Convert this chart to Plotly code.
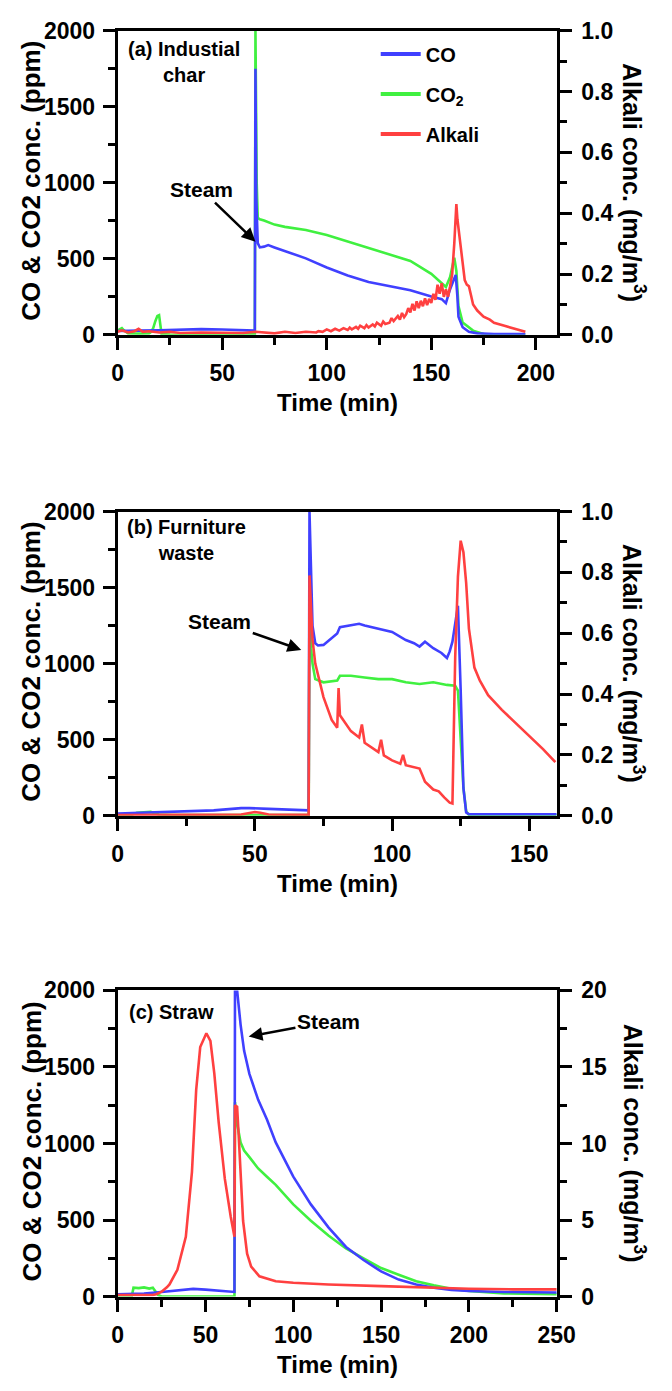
import plotly.graph_objects as go

# ---------------- data ----------------
# Panel (a) Industrial char
a_co_t = [0, 5, 10, 20, 30, 40, 50, 60, 65.6, 65.9, 66.3, 67, 68, 70, 72, 75, 80, 90, 100, 110, 120, 130, 140, 150, 155, 157, 159, 161, 161.7, 162.5, 163, 165, 168, 172, 180, 195]
a_co = [25, 25, 28, 30, 35, 38, 35, 30, 28, 1750, 900, 603, 575, 580, 590, 575, 550, 503, 443, 390, 347, 320, 294, 252, 235, 209, 300, 370, 394, 250, 120, 50, 20, 10, 6, 5]

a_co2_t = [0, 1, 2, 3, 5, 10, 15, 16, 17, 18, 19, 19.8, 20.5, 21, 25, 36, 50, 65.6, 65.9, 66.5, 67, 68, 70, 75, 80, 90, 100, 110, 120, 130, 140, 150, 155, 157, 159, 161, 162, 163, 165, 170, 175, 185, 195]
a_co2 = [30, 40, 45, 30, 10, 8, 10, 20, 45, 90, 125, 130, 60, 5, 2, 0, 3, 5, 2000, 1000, 770, 760, 752, 725, 710, 689, 657, 614, 571, 533, 486, 401, 337, 315, 380, 507, 420, 190, 81, 28, 6, 2, 0]

a_alk_t = [0, 2, 5, 8, 10, 12, 15, 20, 25, 30, 40, 50, 60, 66, 70, 75, 80, 85, 90, 95,
           96, 98, 100, 102, 104, 106, 108, 110, 111, 112, 114, 115, 116, 118, 119, 120, 122, 123, 124, 126, 127, 128, 130,
           131, 132, 134, 135, 136, 137, 138, 139, 140, 141, 142, 143, 144, 145, 146, 147, 148, 149, 150,
           151, 152, 153, 154, 155, 156, 157, 158, 159, 160, 161, 162, 162.5, 163, 164, 165, 166,
           167, 168, 169, 170, 172, 175, 178, 180, 185, 190, 195]
a_alk = [0.010, 0.015, 0.008, 0.012, 0.020, 0.010, 0.012, 0.008, 0.010, 0.006, 0.008, 0.007, 0.006, 0.010, 0.008, 0.005, 0.010, 0.006, 0.010, 0.008,
         0.012, 0.010, 0.018, 0.012, 0.020, 0.014, 0.022, 0.016, 0.024, 0.018, 0.026, 0.020, 0.030, 0.022, 0.032, 0.024, 0.034, 0.028, 0.040, 0.030, 0.044, 0.036, 0.040,
         0.055, 0.045, 0.062, 0.050, 0.072, 0.058, 0.068, 0.088, 0.074, 0.102, 0.080, 0.110, 0.088, 0.112, 0.094, 0.120, 0.098, 0.118, 0.105,
         0.135, 0.115, 0.165, 0.135, 0.170, 0.125, 0.150, 0.125, 0.160, 0.200, 0.300, 0.430, 0.380, 0.350, 0.300, 0.240, 0.180,
         0.165, 0.160, 0.130, 0.100, 0.080, 0.060, 0.050, 0.040, 0.030, 0.020, 0.010]

# Panel (b) Furniture waste
b_co_t = [0, 10, 20, 35, 45, 48, 55, 60, 69.6, 69.9, 70.5, 71, 72, 73, 75, 78, 80, 81, 85, 88, 90, 95, 100, 105, 108, 110, 112, 115, 118, 120, 121, 122, 123, 124, 125, 126, 127, 128, 140, 160]
b_co = [15, 20, 25, 35, 50, 50, 45, 40, 35, 2000, 1500, 1250, 1134, 1119, 1123, 1166, 1198, 1240, 1251, 1262, 1251, 1230, 1208, 1155, 1134, 1112, 1144, 1101, 1070, 1037, 1080, 1144, 1251, 1380, 823, 182, 21, 10, 10, 10]

b_co2_t = [0, 5, 7, 10, 12, 15, 20, 40, 60, 69.6, 69.9, 70.5, 71, 72, 75, 80, 81, 85, 90, 95, 100, 105, 110, 115, 120, 123, 124, 125, 126, 127, 128, 160]
b_co2 = [5, 5, 20, 25, 25, 8, 5, 5, 5, 5, 1400, 1100, 1000, 898, 877, 888, 920, 920, 909, 898, 898, 877, 866, 877, 860, 855, 823, 503, 182, 30, 5, 5]

b_alk_t = [0, 20, 45, 50, 52, 55, 69.6, 69.9, 70.5, 71, 72, 73, 75, 78, 80, 80.5, 81, 85, 88, 89, 90, 95, 96, 97, 100, 103, 104, 105,
           108, 110, 111, 112, 115, 117, 119, 120, 121, 122, 123, 124, 125, 126, 127, 128, 130, 132, 135, 140, 145, 150, 155, 159.5]
b_alk = [0.002, 0.002, 0.004, 0.012, 0.010, 0.004, 0.003, 0.790, 0.680, 0.580, 0.500, 0.465, 0.390, 0.315, 0.289, 0.420, 0.330, 0.278, 0.257, 0.300, 0.240, 0.209, 0.250, 0.198, 0.182, 0.171, 0.200, 0.166,
         0.160, 0.155, 0.134, 0.112, 0.086, 0.080, 0.060, 0.053, 0.043, 0.040, 0.520, 0.786, 0.904, 0.866, 0.765, 0.615, 0.487, 0.444, 0.396, 0.348, 0.305, 0.262, 0.219, 0.176]

# Panel (c) Straw
c_co_t = [0, 15, 25, 35, 43, 50, 60, 66.5, 66.8, 68, 70, 72, 75, 80, 85, 90, 100, 110, 120, 130, 140, 150, 160, 170, 180, 190, 200, 220, 250]
c_co = [15, 20, 30, 40, 50, 45, 35, 30, 2000, 2000, 1775, 1605, 1455, 1285, 1157, 1007, 783, 602, 452, 324, 239, 164, 111, 79, 58, 43, 36, 30, 26]

c_co2_t = [0, 8, 9, 12, 15, 18, 20, 21, 23, 25, 32, 50, 66.5, 66.8, 68, 70, 72, 75, 80, 85, 90, 100, 110, 120, 130, 140, 150, 160, 170, 180, 190, 200, 220, 250]
c_co2 = [0, 0, 58, 55, 60, 52, 58, 40, 10, 0, 0, 0, 0, 1270, 1130, 1007, 954, 911, 837, 783, 730, 602, 495, 399, 314, 250, 186, 143, 100, 73, 51, 36, 21, 15]

c_alk_t = [0, 10, 20, 22, 25, 28, 29.5, 34, 38.8, 42.3, 44.7, 47, 50.5, 52.8, 55, 57.5, 61, 64.4, 66.5, 66.8, 68, 69, 71.4, 73.7, 76, 80.7, 90, 100, 120, 150, 175, 200, 225, 250]
c_alk = [0.1, 0.1, 0.1, 0.15, 0.32, 0.6, 0.79, 1.75, 3.9, 8.15, 13.5, 16.3, 17.2, 16.7, 14.6, 11.4, 7.7, 5.2, 3.9, 12.5, 12.4, 10.3, 4.95, 2.8, 1.96, 1.32, 1.0, 0.9, 0.79, 0.68, 0.58, 0.51, 0.47, 0.47]

# ---------------- styling ----------------
W, H = 672, 1391
BLUE, GREEN, RED = "#4040ff", "#40f040", "#ff4040"
FONT = "Arial, Liberation Sans, sans-serif"
LW = 2.6
XL, XR = 116, 572
panels = [
    dict(top=18, bot=328, xmax=210, rmax=1.0, rdt=0.2, rminor=0.1, rfmt=".1f", label="(a) Industial<br>char", lab=(185, 50)),
    dict(top=508, bot=818, xmax=160, rmax=1.0, rdt=0.2, rminor=0.1, rfmt=".1f", label="(b) Furniture<br>waste", lab=(187, 537)),
    dict(top=996, bot=1308, xmax=250, rmax=20, rdt=5, rminor=2.5, rfmt="d", label="(c) Straw", lab=(172, 1018)),
]
series = [
    (a_co_t, a_co, a_co2_t, a_co2, a_alk_t, a_alk),
    (b_co_t, b_co, b_co2_t, b_co2, b_alk_t, b_alk),
    (c_co_t, c_co, c_co2_t, c_co2, c_alk_t, c_alk),
]

fig = go.Figure()
layout = dict(width=W, height=H, margin=dict(l=0, r=0, t=0, b=0), autosize=False,
              plot_bgcolor="white", paper_bgcolor="white", showlegend=True,
              font=dict(family=FONT, color="black", size=21, weight="bold"))
annotations = []


def py(p):
    return 1 - p / H


for i, (p, s) in enumerate(zip(panels, series)):
    n = i + 1
    xa = "x" if n == 1 else f"x{n}"
    yl = 2 * n - 1
    yr = 2 * n
    yla = "y" if yl == 1 else f"y{yl}"
    tco, co, tco2, co2, talk, alk = s
    fig.add_trace(go.Scatter(x=tco2, y=co2, mode="lines", line=dict(color=GREEN, width=LW),
                             name="CO<sub>2</sub>", xaxis=xa, yaxis=yla, showlegend=False, legendgroup="co2"))
    fig.add_trace(go.Scatter(x=tco, y=co, mode="lines", line=dict(color=BLUE, width=LW),
                             name="CO", xaxis=xa, yaxis=yla, showlegend=False, legendgroup="co"))
    fig.add_trace(go.Scatter(x=talk, y=alk, mode="lines", line=dict(color=RED, width=LW),
                             name="Alkali", xaxis=xa, yaxis=f"y{yr}", showlegend=False, legendgroup="alk"))
    dom_y = [py(p["bot"]), py(p["top"])]
    common = dict(showgrid=False, zeroline=False, showline=True, linecolor="black", linewidth=3,
                  ticks="outside", ticklen=12, tickwidth=3, tickcolor="black",
                  tickfont=dict(family=FONT, size=23, color="black", weight="bold"))
    layout["xaxis" if n == 1 else f"xaxis{n}"] = dict(
        common, domain=[XL / W, XR / W], anchor=yla, range=[0, p["xmax"]], dtick=50, tick0=0,
        mirror=True, ticklabelstandoff=4,
        minor=dict(ticks="outside", ticklen=7, tickwidth=3, dtick=25, tickcolor="black"))
    layout["yaxis" if yl == 1 else f"yaxis{yl}"] = dict(
        common, domain=dom_y, anchor=xa, range=[0, 2000], dtick=500, tick0=0, ticklabelstandoff=3,
        minor=dict(ticks="outside", ticklen=7, tickwidth=3, dtick=250, tickcolor="black"))
    layout[f"yaxis{yr}"] = dict(
        common, domain=dom_y, anchor=xa, overlaying=yla, side="right", range=[0, p["rmax"]],
        dtick=p["rdt"], tick0=0, tickformat=p["rfmt"], ticklabelstandoff=5,
        minor=dict(ticks="outside", ticklen=7, tickwidth=3, dtick=p["rminor"], tickcolor="black"))
    mid = (p["top"] + p["bot"]) / 2
    annotations += [
        dict(text="CO & CO2 conc. (ppm)", xref="paper", yref="paper", x=26 / W, y=py(mid - 2),
             showarrow=False, textangle=-90, font=dict(size=26), xanchor="center", yanchor="middle"),
        dict(text="Alkali conc. (mg/m<sup>3</sup>)", xref="paper", yref="paper", x=652 / W, y=py(mid),
             showarrow=False, textangle=90, font=dict(size=25), xanchor="center", yanchor="middle"),
        dict(text="Time (min)", xref="paper", yref="paper", x=(XL + XR) / 2 / W, y=py(p["bot"] + 69),
             showarrow=False, font=dict(size=24), xanchor="center", yanchor="middle"),
        dict(text=p["label"], xref="paper", yref="paper", x=p["lab"][0] / W, y=py(p["lab"][1]),
             showarrow=False, font=dict(size=20), xanchor="center", yanchor="middle", align="center"),
    ]

# legend entries (panel a only)
for nm, col, grp in [("CO", BLUE, "co"), ("CO<sub>2</sub>", GREEN, "co2"), ("Alkali", RED, "alk")]:
    fig.add_trace(go.Scatter(x=[None], y=[None], mode="lines", line=dict(color=col, width=4),
                             name=nm, legendgroup=grp, showlegend=True))

# Steam arrows
steam = [("x", "y", 65.9, 613, 40.1, 955), ("x2", "y3", 66.9, 1090, 37.2, 1277), ("x3", "y5", 74.6, 1699, 120, 1795)]
for xr, yr_, hx, hy, tx, ty in steam:
    annotations.append(dict(text="Steam", xref=xr, yref=yr_, axref=xr, ayref=yr_, x=hx, y=hy, ax=tx, ay=ty,
                            showarrow=True, arrowhead=2, arrowsize=1.1, arrowwidth=2.5, arrowcolor="black",
                            font=dict(size=21)))

layout["annotations"] = annotations
layout["legend"] = dict(x=384 / W, y=py(22), xanchor="left", yanchor="top", bgcolor="rgba(0,0,0,0)",
                        font=dict(size=20, family=FONT, weight="bold"), tracegroupgap=11, itemwidth=40,
                        traceorder="grouped")
fig.update_layout(**layout)
fig.write_html("out.html")
